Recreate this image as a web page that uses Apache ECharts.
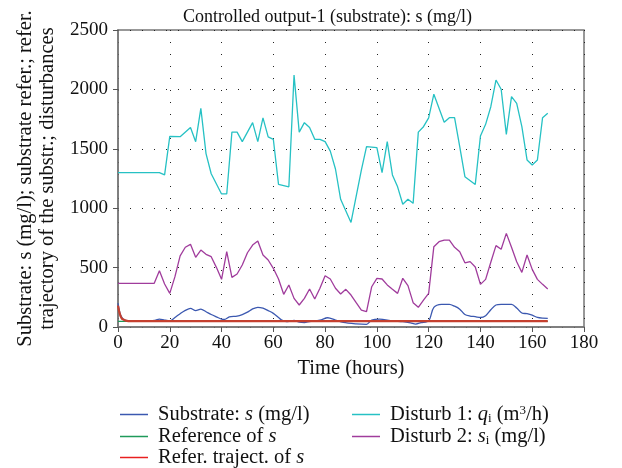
<!DOCTYPE html>
<html>
<head>
<meta charset="utf-8">
<script src="https://cdn.jsdelivr.net/npm/echarts@6/dist/echarts.min.js"></script>
<style>html,body{margin:0;padding:0;background:#fff}#c{width:622px;height:468px}</style>
</head>
<body>
<div id="c"></div>
<script>
// ---- data (time in hours, value) ----
const xTicks = [0, 20, 40, 60, 80, 100, 120, 140, 160, 180];
const yTicks = [0, 500, 1000, 1500, 2000, 2500];

const substrate = [[0,200],[0.5,140],[1,100],[2,66],[3,55],[4,52],[8,50],[12,50],[14,55],[16,67],[18,58],[20,52],[22,80],[24,112],[26,140],[28,157],[30,138],[32,150],[34,128],[36,105],[38,85],[40,66],[41,63],[43,85],[46,92],[48,105],[50,125],[52,152],[54,166],[56,158],[58,138],[60,115],[62,80],[63,62],[65,46],[68,55],[70,42],[72,38],[74,45],[78,58],[81,78],[84,58],[87,38],[92,26],[96,22],[98,58],[101,66],[106,50],[110,45],[113,35],[115,25],[117,36],[120,52],[122,165],[125,190],[128,191],[130,175],[132,150],[134,105],[136,92],[138,87],[140,80],[142,95],[144,145],[146,185],[148,190],[152,190],[154,160],[156,118],[158,112],[160,100],[162,80],[164,74],[166,73]];
const reference = [[0,48],[166,48]];
const referTraj = [[0,180],[0.5,125],[1,90],[1.5,70],[2,60],[3,53],[4,50],[166,50]];
const disturb1 = [[0,1300],[16,1300],[18,1280],[20,1605],[24,1602],[28,1680],[30,1560],[32,1840],[34,1460],[36,1290],[40,1120],[42,1120],[44,1640],[46,1640],[48,1560],[52,1720],[54,1560],[56,1760],[58,1600],[60,1580],[62,1200],[66,1180],[68,2120],[70,1640],[72,1720],[74,1680],[76,1580],[78,1580],[80,1560],[82,1480],[84,1330],[86,1075],[90,880],[94,1320],[96,1518],[100,1510],[102,1300],[104,1560],[106,1280],[108,1180],[110,1033],[112,1075],[114,1041],[116,1640],[118,1686],[120,1760],[122,1960],[126,1723],[128,1762],[130,1762],[132,1518],[134,1265],[138,1200],[140,1608],[142,1706],[144,1854],[146,2079],[148,2001],[150,1622],[152,1939],[154,1883],[156,1686],[158,1406],[160,1364],[162,1406],[164,1762],[166,1799]];
const disturb2 = [[0,368],[14,368],[16,474],[18,362],[20,283],[22,424],[24,598],[26,671],[28,696],[30,587],[32,648],[34,612],[36,592],[38,502],[40,401],[42,634],[44,418],[46,446],[48,522],[50,625],[52,690],[54,724],[56,606],[58,564],[60,494],[62,404],[64,275],[66,354],[68,241],[70,185],[72,241],[74,320],[76,236],[78,326],[80,432],[82,404],[84,326],[86,278],[88,317],[90,269],[92,205],[94,143],[96,129],[98,339],[100,410],[102,404],[104,354],[106,317],[108,283],[110,410],[112,348],[114,205],[116,166],[118,227],[120,283],[122,676],[124,718],[126,732],[128,732],[130,671],[132,634],[134,540],[136,550],[138,505],[140,359],[142,401],[144,545],[146,685],[148,654],[150,788],[152,671],[154,550],[156,460],[158,606],[160,485],[162,401],[164,359],[166,320]];

const labels = {
  Substrate: 'Substrate: {it|s} (mg/l)',
  Reference: 'Reference of {it|s}',
  ReferTraj: 'Refer. traject. of {it|s}',
  Disturb1: 'Disturb 1: {it|q}{sub|i} (m{sup|3}/h)',
  Disturb2: 'Disturb 2: {it|s}{sub|i} (mg/l)'
};
const legendColors = {Substrate: '#3b58b0', Reference: '#1f9a5a', ReferTraj: '#e82020', Disturb1: '#26c1c4', Disturb2: '#a03c9c'};
// legend placement: [name, left, top]
const legendPlaces = [['Substrate', 120, 404], ['Reference', 120, 426], ['ReferTraj', 120, 447], ['Disturb1', 352, 404], ['Disturb2', 352, 426]];

const FONT = '"Liberation Serif", "DejaVu Serif", serif';
const TXT = 20.5;
const richStyles = {
  it: {fontFamily: FONT, fontStyle: 'italic', fontSize: TXT, color: '#111', lineHeight: 21},
  sub: {fontFamily: FONT, fontSize: 13, color: '#111', lineHeight: 21, verticalAlign: 'bottom'},
  sup: {fontFamily: FONT, fontSize: 13, color: '#111', lineHeight: 21, verticalAlign: 'top'}
};

const chart = echarts.init(document.getElementById('c'), null, {renderer: 'canvas'});
const gridLine = {show: true, lineStyle: {color: '#222', type: [1, 11], width: 1}};

chart.setOption({
  animation: false,
  backgroundColor: '#fff',
  title: {
    text: 'Controlled output-1 (substrate): s (mg/l)',
    left: 178, top: 3,
    textStyle: {fontFamily: FONT, fontSize: 18, fontWeight: 'normal', color: '#111'}
  },
  grid: {left: 118, right: 38, top: 30, bottom: 141, show: true, borderColor: '#777', borderWidth: 1.5},
  xAxis: {
    type: 'value', min: xTicks[0], max: xTicks[xTicks.length - 1], interval: 20,
    name: 'Time (hours)', nameLocation: 'middle', nameGap: 31,
    nameTextStyle: {fontFamily: FONT, fontSize: TXT, color: '#111'},
    axisLine: {lineStyle: {color: '#777', width: 1.5}},
    axisTick: {show: true, length: 5, lineStyle: {color: '#555'}},
    axisLabel: {fontFamily: FONT, fontSize: 19, color: '#111', margin: 7, formatter: v => String(v)},
    splitLine: gridLine
  },
  yAxis: {
    type: 'value', min: yTicks[0], max: yTicks[yTicks.length - 1], interval: 500,
    name: 'Substrate: s (mg/l); substrate refer.; refer.\ntrajectory of the substr.; disturbances',
    nameLocation: 'middle', nameGap: 58, nameRotate: 90,
    nameTextStyle: {fontFamily: FONT, fontSize: 20.5, color: '#111', lineHeight: 22},
    axisLine: {show: true, lineStyle: {color: '#777', width: 1.5}},
    axisTick: {show: true, length: 5, lineStyle: {color: '#555'}},
    axisLabel: {fontFamily: FONT, fontSize: 19, color: '#111', margin: 10, formatter: v => String(v)},
    splitLine: gridLine
  },
  legend: legendPlaces.map(([name, left, top]) => ({
    orient: 'vertical', left: left, top: top, padding: 0, itemWidth: 28, itemHeight: 1.5, icon: 'rect',
    data: [{name: name, itemStyle: {color: legendColors[name]}}],
    formatter: n => labels[n],
    textStyle: {fontFamily: FONT, fontSize: TXT, color: '#111', lineHeight: 21, padding: [0, 0, 0, 5], rich: richStyles}
  })),
  series: [
    {name: 'Disturb1', type: 'line', data: disturb1, symbol: 'none', lineStyle: {color: '#26c1c4', width: 1.3}, itemStyle: {color: '#26c1c4'}},
    {name: 'Disturb2', type: 'line', data: disturb2, symbol: 'none', lineStyle: {color: '#a03c9c', width: 1.3}, itemStyle: {color: '#a03c9c'}},
    {name: 'Substrate', type: 'line', data: substrate, symbol: 'none', smooth: 0.3, lineStyle: {color: '#3b58b0', width: 1.3}, itemStyle: {color: '#3b58b0'}},
    {name: 'Reference', type: 'line', data: reference, symbol: 'none', lineStyle: {color: '#1f9a5a', width: 1.3}, itemStyle: {color: '#1f9a5a'}},
    {name: 'ReferTraj', type: 'line', data: referTraj, symbol: 'none', lineStyle: {color: '#c5402f', width: 2.2}, itemStyle: {color: '#e82020'}}
  ]
});
</script>
</body>
</html>
